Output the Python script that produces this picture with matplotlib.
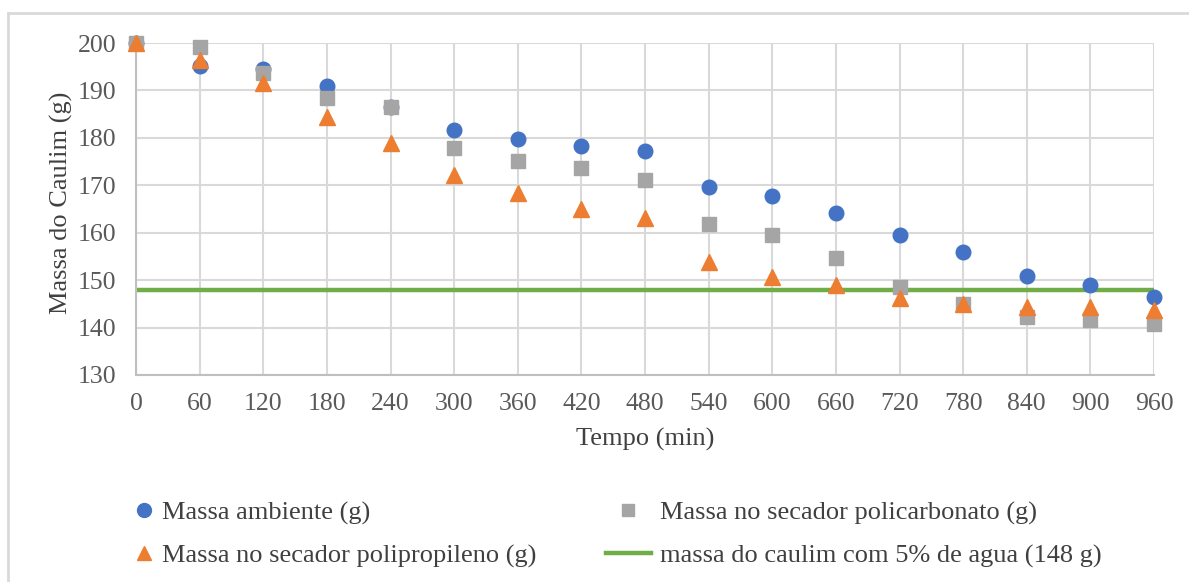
import matplotlib
matplotlib.use('Agg')
import matplotlib.pyplot as plt
from matplotlib.lines import Line2D

# tempo em minutos
tempo = [0, 60, 120, 180, 240, 300, 360, 420, 480, 540, 600, 660, 720, 780, 840, 900, 960]
# massas medidas (g)
massa_ambiente = [200.0, 195.2, 194.5, 190.9, 186.6, 181.7, 179.8, 178.3, 177.2, 169.6,
                  167.7, 164.1, 159.5, 156.0, 150.9, 149.0, 146.5]
massa_policarbonato = [200.0, 199.2, 193.6, 188.5, 186.6, 177.8, 175.1, 173.6, 171.1, 161.8,
                       159.5, 154.6, 148.6, 145.0, 142.3, 141.6, 140.8]
massa_polipropileno = [200.0, 196.4, 191.5, 184.5, 178.9, 172.2, 168.3, 165.1, 163.0, 153.8,
                       150.7, 149.0, 146.2, 145.0, 144.4, 144.3, 143.6]
massa_limite = 148  # caulim com 5% de agua

plt.rcParams['font.family'] = ['Liberation Serif', 'DejaVu Serif']

fig = plt.figure(figsize=(11.89, 5.82), dpi=100)
ax = fig.add_axes([0.1144, 0.3557, 0.8562, 0.5704])

ax.plot([tempo[0], tempo[-1]], [massa_limite, massa_limite], color='#70AD47', lw=3.2, zorder=2)
ax.plot(tempo, massa_ambiente, 'o', color='#4472C4', ms=10.5, zorder=3, clip_on=False)
ax.plot(tempo, massa_policarbonato, 's', color='#A5A5A5', ms=10.5, zorder=4, clip_on=False)
ax.plot(tempo, massa_polipropileno, '^', color='#ED7D31', ms=11.5, zorder=5, clip_on=False)

ax.set_xlim(0, 960)
ax.set_ylim(130, 200)
ax.set_xticks(tempo)
ax.set_yticks(range(130, 201, 10))
ax.grid(True, color='#D9D9D9', lw=1.5)
ax.set_axisbelow(True)
for s in ['top', 'right']:
    ax.spines[s].set_visible(False)
for s in ['left', 'bottom']:
    ax.spines[s].set_color('#BFBFBF')
    ax.spines[s].set_linewidth(1.5)
ax.tick_params(length=0, labelsize=18.5, colors='#595959')
ax.tick_params(axis='x', pad=13)
ax.tick_params(axis='y', pad=14)
ax.set_xlabel('Tempo (min)', fontsize=19, color='#404040')
ax.set_ylabel('Massa do Caulim (g)', fontsize=19, color='#404040')
ax.xaxis.set_label_coords(0.5, -0.16)
ax.yaxis.set_label_coords(-0.062, 0.52)

# legenda em duas colunas abaixo do grafico
leg_kw = dict(loc='upper left', frameon=False, fontsize=19, labelcolor='#404040',
              labelspacing=0.72, borderpad=0, borderaxespad=0)
col1 = [Line2D([], [], ls='', marker='o', color='#4472C4', ms=10),
        Line2D([], [], ls='', marker='^', color='#ED7D31', ms=10)]
fig.legend(col1, ['Massa ambiente (g)', 'Massa no secador polipropileno (g)'],
           bbox_to_anchor=(133 / 1189, 1 - 501 / 582), handlelength=0.8,
           handletextpad=0.3, **leg_kw)
col2 = [Line2D([], [], ls='', marker='s', color='#A5A5A5', ms=9),
        Line2D([], [], color='#70AD47', lw=3.2)]
fig.legend(col2, ['Massa no secador policarbonato (g)', 'massa do caulim com 5% de agua (148 g)'],
           bbox_to_anchor=(606 / 1189, 1 - 501 / 582), handlelength=1.7,
           handletextpad=0.35, **leg_kw)

# moldura do grafico
fig.add_artist(Line2D([8 / 1189, 1], [1 - 13 / 582, 1 - 13 / 582], color='#D9D9D9', lw=2,
                      transform=fig.transFigure))
fig.add_artist(Line2D([8 / 1189, 8 / 1189], [0, 1 - 13 / 582], color='#D9D9D9', lw=2,
                      transform=fig.transFigure))

fig.savefig('out.png', dpi=100)
